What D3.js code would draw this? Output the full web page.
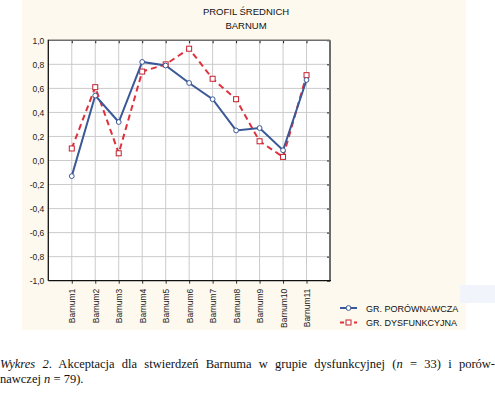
<!DOCTYPE html>
<html>
<head>
<meta charset="utf-8">
<script src="https://cdn.jsdelivr.net/npm/d3@7"></script>
<style>
  body { margin: 0; background: #fff; }
  #wrap { position: relative; width: 495px; height: 396px; overflow: hidden; }
  #caption { position: absolute; left: 0; top: 357px; width: 495px;
    font-family: "Liberation Serif", "Times New Roman", serif; font-size: 12.5px; line-height: 15px; color: #111; }
  #caption .l1 { text-align: justify; text-align-last: justify; white-space: nowrap; }
</style>
</head>
<body>
<div id="wrap">
  <svg id="chart" width="495" height="396"></svg>
  <div id="caption">
    <div class="l1"><i>Wykres 2</i>. Akceptacja dla stwierdzeń Barnuma w grupie dysfunkcyjnej (<i>n</i> = 33) i porów-</div>
    <div>nawczej <i>n</i> = 79).</div>
  </div>
</div>
<script>
var categories = ["Barnum1","Barnum2","Barnum3","Barnum4","Barnum5","Barnum6","Barnum7","Barnum8","Barnum9","Barnum10","Barnum11"];
var porownawcza = [-0.13, 0.54, 0.32, 0.82, 0.79, 0.645, 0.51, 0.25, 0.27, 0.085, 0.67];
var dysfunkcyjna = [0.10, 0.61, 0.06, 0.74, 0.80, 0.93, 0.68, 0.51, 0.16, 0.03, 0.71];
var yTicks = [-1, -0.8, -0.6, -0.4, -0.2, 0, 0.2, 0.4, 0.6, 0.8, 1];
var titleLines = ["PROFIL ŚREDNICH", "BARNUM"];
var legendNames = ["GR. PORÓWNAWCZA", "GR. DYSFUNKCYJNA"];

var svg = d3.select("#chart");
var sans = "Arial, 'Liberation Sans', sans-serif";

// cream panel
svg.append("rect").attr("x", 22).attr("y", 0).attr("width", 444).attr("height", 330).attr("fill", "#fef9ee");
svg.append("rect").attr("x", 460).attr("y", 285).attr("width", 35).attr("height", 18).attr("fill", "#f1f5fb");

var x = d3.scaleLinear().domain([0, categories.length + 1]).range([48.3, 330]);
var y = d3.scaleLinear().domain([-1, 1]).range([280.7, 40.3]);

// plot background
svg.append("rect").attr("x", x(0)).attr("y", y(1)).attr("width", x(12) - x(0)).attr("height", y(-1) - y(1)).attr("fill", "#fff");

// grid
svg.append("g").selectAll("line").data(yTicks.slice(1, -1)).enter().append("line")
  .attr("x1", x(0)).attr("x2", x(12)).attr("y1", function(d){ return y(d); }).attr("y2", function(d){ return y(d); })
  .attr("stroke", "#cbcbcb").attr("stroke-width", 1);
svg.append("g").selectAll("line").data(categories).enter().append("line")
  .attr("y1", y(1)).attr("y2", y(-1)).attr("x1", function(d, i){ return x(i + 1); }).attr("x2", function(d, i){ return x(i + 1); })
  .attr("stroke", "#cbcbcb").attr("stroke-width", 1);

// axes
var yAxis = d3.axisLeft(y).tickValues(yTicks).tickSize(0).tickPadding(4)
  .tickFormat(function(d){ return d3.format(".1f")(d).replace(".", ",").replace("−", "-"); });
var gy = svg.append("g").attr("transform", "translate(" + x(0) + ",0)").call(yAxis);
gy.select(".domain").remove();
gy.selectAll("text").attr("font-family", sans).attr("font-size", "8.5px").attr("fill", "#222");

var xAxis = d3.axisBottom(x).tickValues(d3.range(1, categories.length + 1)).tickSize(3).tickPadding(4)
  .tickFormat(function(d){ return categories[d - 1]; });
var gx = svg.append("g").attr("transform", "translate(0," + y(-1) + ")").call(xAxis);
gx.select(".domain").remove();
gx.selectAll("line").attr("stroke", "#333");
gx.selectAll("text").attr("font-family", sans).attr("font-size", "8.5px").attr("fill", "#222")
  .attr("transform", "rotate(-90)").attr("text-anchor", "end").attr("x", -8).attr("y", 0).attr("dy", "0.35em");

// inner ticks top and right
var gTop = d3.axisBottom(x).tickValues(d3.range(1, categories.length + 1)).tickSize(3).tickFormat("");
svg.append("g").attr("transform", "translate(0," + y(1) + ")").call(gTop)
  .call(function(g){ g.select(".domain").remove(); g.selectAll("line").attr("stroke", "#222"); });
var gRight = d3.axisLeft(y).tickValues(yTicks).tickSize(3).tickFormat("");
svg.append("g").attr("transform", "translate(" + x(12) + ",0)").call(gRight)
  .call(function(g){ g.select(".domain").remove(); g.selectAll("line").attr("stroke", "#222"); });

// frame
svg.append("line").attr("x1", x(0)).attr("x2", x(12)).attr("y1", y(1)).attr("y2", y(1)).attr("stroke", "#6e6e6e").attr("stroke-width", 1.5);
svg.append("line").attr("x1", x(12)).attr("x2", x(12)).attr("y1", y(1)).attr("y2", y(-1)).attr("stroke", "#6e6e6e").attr("stroke-width", 2);
svg.append("line").attr("x1", x(0)).attr("x2", x(0)).attr("y1", y(1) - 0.5).attr("y2", y(-1)).attr("stroke", "#111").attr("stroke-width", 1.3);
svg.append("line").attr("x1", x(0)).attr("x2", x(12) + 1).attr("y1", y(-1)).attr("y2", y(-1)).attr("stroke", "#111").attr("stroke-width", 1.3);

// title
svg.append("g").selectAll("text").data(titleLines).enter().append("text")
  .attr("x", 246).attr("y", function(d, i){ return 15 + i * 14; })
  .attr("text-anchor", "middle").attr("font-family", sans).attr("font-size", "9.5px").attr("fill", "#111")
  .text(function(d){ return d; });

var blue = "#3b5998", red = "#e0303c", redDark = "#c4202c";
var line = d3.line().x(function(d, i){ return x(i + 1); }).y(function(d){ return y(d); });

svg.append("path").attr("d", line(dysfunkcyjna)).attr("fill", "none").attr("stroke", red)
  .attr("stroke-width", 2).attr("stroke-dasharray", "6,4");
svg.append("path").attr("d", line(porownawcza)).attr("fill", "none").attr("stroke", blue).attr("stroke-width", 2);

svg.append("g").selectAll("rect").data(dysfunkcyjna).enter().append("rect")
  .attr("x", function(d, i){ return x(i + 1) - 2.5; }).attr("y", function(d){ return y(d) - 2.5; })
  .attr("width", 5).attr("height", 5).attr("fill", "#fff").attr("stroke", redDark).attr("stroke-width", 1);
svg.append("g").selectAll("circle").data(porownawcza).enter().append("circle")
  .attr("cx", function(d, i){ return x(i + 1); }).attr("cy", function(d){ return y(d); })
  .attr("r", 2.4).attr("fill", "#fff").attr("stroke", blue).attr("stroke-width", 1);

// legend
var lg = svg.append("g");
[0, 1].forEach(function(i){
  var ly = 308 + i * 14.5;
  var l = lg.append("line").attr("x1", 340).attr("x2", 357).attr("y1", ly).attr("y2", ly)
    .attr("stroke", i ? red : blue).attr("stroke-width", 2);
  if (i) {
    l.attr("stroke-dasharray", "4,3");
    lg.append("rect").attr("x", 346).attr("y", ly - 2.5).attr("width", 5).attr("height", 5)
      .attr("fill", "#fff").attr("stroke", redDark);
  } else {
    lg.append("circle").attr("cx", 348.5).attr("cy", ly).attr("r", 2.4).attr("fill", "#fff").attr("stroke", blue);
  }
  lg.append("text").attr("x", 366).attr("y", ly + 3.5).attr("font-family", sans).attr("font-size", "9px")
    .attr("fill", "#111").text(legendNames[i]);
});
</script>
</body>
</html>
